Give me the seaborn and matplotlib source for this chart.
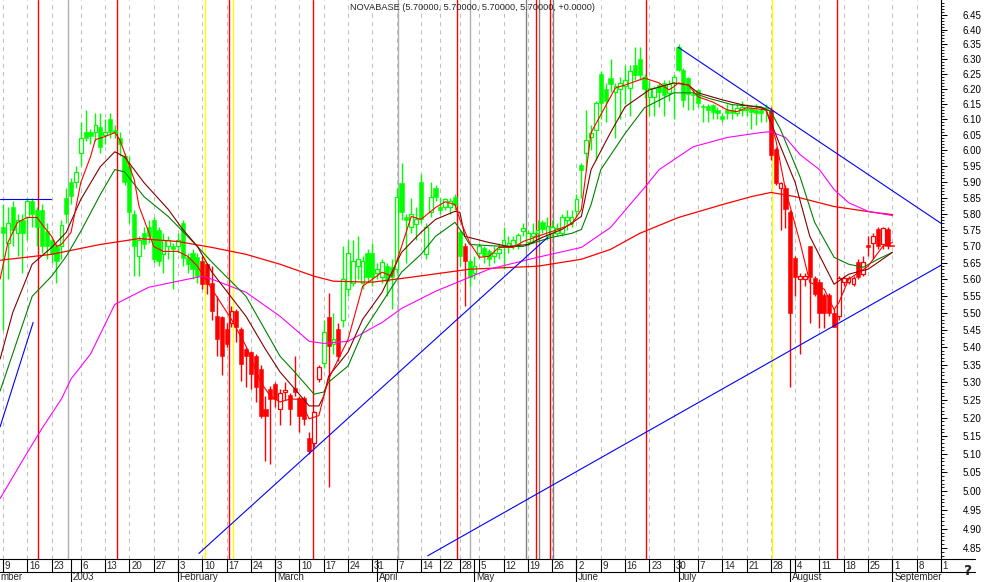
import numpy as np
import matplotlib
matplotlib.use("Agg")
import matplotlib.pyplot as plt
from matplotlib.ticker import FixedLocator, FuncFormatter, NullFormatter
import seaborn as sns

# daily candles, Dec 9 2002 -> Sep 1 2003 (trading-day index 0..183)
opens = [5.76, 5.71, 5.82, 5.74, 5.78, 5.79, 5.84, 5.81, 5.81, 5.745, 5.72, 5.70, 5.70, 5.85, 5.90, 5.90,
         5.99, 6.06, 6.06, 6.06, 6.075, 6.05, 6.10, 6.065, 6.04, 5.98, 5.95, 5.80, 5.67, 5.74, 5.76, 5.78,
         5.75, 5.675, 5.70, 5.70, 5.70, 5.77, 5.666, 5.68, 5.666, 5.654, 5.645, 5.59, 5.49, 5.487, 5.452, 5.469,
         5.507, 5.452, 5.394, 5.386, 5.374, 5.337, 5.225, 5.281, 5.295, 5.225, 5.272, 5.264, 5.284, 5.255, 5.255, 5.145,
         5.13, 5.31, 5.355, 5.487, 5.41, 5.452, 5.478, 5.57, 5.59, 5.64, 5.59, 5.68, 5.68, 5.62, 5.606, 5.639,
         5.636, 5.63, 5.897, 5.79, 5.76, 5.767, 5.90, 5.675, 5.804, 5.88, 5.82, 5.82, 5.82, 5.853, 5.742, 5.70,
         5.654, 5.62, 5.68, 5.693, 5.684, 5.67, 5.68, 5.70, 5.70, 5.70, 5.705, 5.745, 5.714, 5.73, 5.74, 5.773,
         5.73, 5.74, 5.739, 5.739, 5.78, 5.77, 5.807, 5.954, 5.99, 6.044, 6.066, 6.25, 6.20, 6.236, 6.19, 6.20,
         6.21, 6.203, 6.28, 6.30, 6.24, 6.174, 6.174, 6.213, 6.22, 6.187, 6.22, 6.34, 6.264, 6.236, 6.18, 6.197,
         6.14, 6.144, 6.148, 6.13, 6.11, 6.13, 6.13, 6.12, 6.13, 6.13, 6.138, 6.13, 6.13, 6.14, 6.131, 6.004,
         5.88, 5.881, 5.804, 5.663, 5.60, 5.60, 5.699, 5.603, 5.591, 5.552, 5.552, 5.501, 5.49, 5.591, 5.591, 5.585,
         5.651, 5.615, 5.702, 5.711, 5.751, 5.705, 5.751, 5.70]
highs = [5.83, 5.82, 5.84, 5.80, 5.80, 5.85, 5.85, 5.82, 5.83, 5.77, 5.73, 5.71, 5.78, 5.88, 5.91, 5.95,
         6.09, 6.13, 6.07, 6.12, 6.12, 6.10, 6.12, 6.08, 6.06, 5.99, 5.98, 5.81, 5.73, 5.76, 5.78, 5.79,
         5.76, 5.74, 5.73, 5.71, 5.74, 5.78, 5.68, 5.69, 5.68, 5.67, 5.65, 5.64, 5.55, 5.49, 5.47, 5.52,
         5.51, 5.46, 5.40, 5.39, 5.38, 5.35, 5.26, 5.29, 5.30, 5.28, 5.30, 5.27, 5.374, 5.26, 5.26, 5.16,
         5.22, 5.35, 5.48, 5.56, 5.50, 5.47, 5.70, 5.72, 5.72, 5.73, 5.67, 5.69, 5.71, 5.65, 5.66, 5.65,
         5.66, 5.88, 5.96, 5.80, 5.85, 5.82, 5.925, 5.77, 5.90, 5.89, 5.85, 5.85, 5.85, 5.86, 5.75, 5.71,
         5.66, 5.67, 5.71, 5.70, 5.69, 5.70, 5.71, 5.76, 5.73, 5.73, 5.74, 5.77, 5.75, 5.77, 5.78, 5.78,
         5.79, 5.78, 5.77, 5.80, 5.81, 5.81, 5.86, 5.96, 6.13, 6.08, 6.16, 6.26, 6.22, 6.30, 6.22, 6.24,
         6.28, 6.28, 6.34, 6.34, 6.25, 6.23, 6.21, 6.22, 6.23, 6.23, 6.25, 6.35, 6.27, 6.24, 6.20, 6.20,
         6.15, 6.15, 6.15, 6.14, 6.12, 6.15, 6.15, 6.15, 6.16, 6.15, 6.14, 6.15, 6.14, 6.15, 6.14, 6.01,
         5.90, 5.89, 5.81, 5.67, 5.62, 5.62, 5.70, 5.61, 5.60, 5.56, 5.56, 5.51, 5.61, 5.61, 5.61, 5.61,
         5.66, 5.67, 5.73, 5.74, 5.76, 5.76, 5.76, 5.70]
lows = [5.45, 5.60, 5.70, 5.67, 5.62, 5.72, 5.76, 5.70, 5.68, 5.66, 5.65, 5.59, 5.66, 5.77, 5.83, 5.88,
        5.95, 6.03, 6.02, 6.03, 5.99, 6.02, 6.04, 6.04, 5.98, 5.89, 5.77, 5.61, 5.61, 5.69, 5.71, 5.65,
        5.64, 5.62, 5.66, 5.57, 5.68, 5.64, 5.62, 5.60, 5.59, 5.57, 5.555, 5.48, 5.374, 5.32, 5.40, 5.46,
        5.414, 5.303, 5.287, 5.28, 5.244, 5.20, 5.08, 5.073, 5.23, 5.18, 5.25, 5.18, 5.26, 5.16, 5.18, 5.10,
        5.12, 5.30, 5.34, 5.01, 5.38, 5.36, 5.46, 5.55, 5.58, 5.60, 5.57, 5.59, 5.58, 5.60, 5.59, 5.55,
        5.51, 5.62, 5.78, 5.65, 5.74, 5.72, 5.77, 5.66, 5.79, 5.84, 5.80, 5.81, 5.80, 5.81, 5.64, 5.52,
        5.58, 5.60, 5.66, 5.65, 5.64, 5.65, 5.66, 5.63, 5.68, 5.69, 5.69, 5.73, 5.70, 5.71, 5.72, 5.74,
        5.72, 5.73, 5.73, 5.73, 5.75, 5.76, 5.79, 5.85, 5.938, 6.00, 5.97, 6.10, 6.09, 6.19, 6.04, 6.10,
        6.15, 6.11, 6.23, 6.23, 6.17, 6.11, 6.11, 6.14, 6.11, 6.16, 6.10, 6.26, 6.14, 6.13, 6.13, 6.14,
        6.09, 6.09, 6.10, 6.10, 6.09, 6.10, 6.10, 6.11, 6.11, 6.11, 6.07, 6.08, 6.09, 6.09, 5.97, 5.89,
        5.75, 5.757, 5.285, 5.55, 5.38, 5.58, 5.47, 5.55, 5.455, 5.455, 5.49, 5.458, 5.48, 5.58, 5.585, 5.58,
        5.60, 5.61, 5.67, 5.66, 5.69, 5.69, 5.69, 5.70]
closes = [5.74, 5.77, 5.75, 5.78, 5.74, 5.84, 5.80, 5.76, 5.70, 5.70, 5.675, 5.655, 5.765, 5.80, 5.855, 5.93,
          6.04, 6.04, 6.045, 6.08, 6.01, 6.06, 6.06, 6.057, 6.02, 5.90, 5.805, 5.70, 5.72, 5.705, 5.73, 5.66,
          5.655, 5.72, 5.72, 5.69, 5.72, 5.665, 5.645, 5.63, 5.609, 5.585, 5.585, 5.505, 5.423, 5.374, 5.408, 5.507,
          5.458, 5.351, 5.374, 5.323, 5.287, 5.206, 5.206, 5.252, 5.252, 5.27, 5.278, 5.225, 5.272, 5.206, 5.197, 5.107,
          5.215, 5.343, 5.443, 5.403, 5.423, 5.374, 5.60, 5.68, 5.654, 5.66, 5.654, 5.606, 5.606, 5.63, 5.651, 5.594,
          5.606, 5.853, 5.804, 5.78, 5.80, 5.782, 5.782, 5.76, 5.853, 5.853, 5.81, 5.844, 5.84, 5.828, 5.67, 5.654,
          5.606, 5.64, 5.699, 5.669, 5.66, 5.68, 5.69, 5.72, 5.71, 5.72, 5.733, 5.754, 5.739, 5.74, 5.75, 5.751,
          5.761, 5.76, 5.757, 5.788, 5.79, 5.79, 5.844, 5.938, 6.034, 6.057, 6.154, 6.154, 6.16, 6.217, 6.21, 6.22,
          6.23, 6.26, 6.245, 6.245, 6.20, 6.203, 6.203, 6.19, 6.18, 6.217, 6.24, 6.264, 6.164, 6.184, 6.18, 6.154,
          6.14, 6.131, 6.125, 6.12, 6.10, 6.12, 6.12, 6.138, 6.14, 6.135, 6.125, 6.12, 6.12, 6.13, 5.986, 5.897,
          5.897, 5.813, 5.50, 5.606, 5.61, 5.61, 5.606, 5.555, 5.501, 5.501, 5.501, 5.458, 5.603, 5.603, 5.603, 5.603,
          5.606, 5.651, 5.696, 5.73, 5.699, 5.754, 5.699, 5.70]
candle_colors = ("ggggggggggggggggggggggggggggggggggggggggg"
                 "rrrrrrrrrrrrrrrrrrrrrrrrr"
                 "grgr"
                 "ggggggggggggggggggggggggg"
                 "r"
                 "gggggggggggggggggggggggggggggggggggggggggggggggggggggggggggggg"
                 "rrrrrrrrrrrrrrrrrrrrrrrrrr")

# moving averages (day index, price)
fast_days = [-0.6, 1, 3, 5, 7, 8, 10, 11, 12, 14, 16, 18, 19, 21, 23, 24, 25, 27, 28, 30, 31, 33, 36, 38,
             40, 43, 47, 50, 53, 55, 57, 59, 61, 63, 65, 66, 67, 71, 74, 78, 80, 82, 84, 86, 89, 91, 93, 94,
             96, 98, 100, 102, 105, 107, 110, 113, 117, 119, 121, 126, 128, 132, 135, 137, 138, 139, 141, 143,
             146, 149, 151, 153, 157, 159, 161, 164, 166, 169, 171, 172, 174, 178, 181, 183]
fast_ma = [5.600, 5.711, 5.773, 5.788, 5.788, 5.767, 5.730, 5.699, 5.705, 5.742, 5.897, 5.979, 6.034, 6.044,
           6.057, 6.034, 5.992, 5.906, 5.822, 5.742, 5.699, 5.684, 5.684, 5.669, 5.639, 5.570, 5.481, 5.403,
           5.300, 5.261, 5.244, 5.252, 5.252, 5.197, 5.206, 5.261, 5.309, 5.423, 5.579, 5.621, 5.609, 5.699,
           5.791, 5.782, 5.819, 5.837, 5.828, 5.782, 5.711, 5.666, 5.669, 5.696, 5.696, 5.714, 5.730, 5.745,
           5.767, 5.813, 6.057, 6.203, 6.213, 6.236, 6.220, 6.197, 6.207, 6.220, 6.213, 6.174, 6.157, 6.131,
           6.125, 6.138, 6.131, 6.034, 5.875, 5.711, 5.591, 5.570, 5.510, 5.531, 5.600, 5.639, 5.699, 5.711]

mid_days = [-0.6, 2, 6, 10, 13, 16, 20, 23, 25, 29, 34, 37, 40, 43, 50, 54, 57, 60, 63, 65, 66, 67, 71, 74,
            78, 82, 86, 89, 93, 94, 95, 100, 104, 108, 111, 115, 119, 121, 125, 128, 133, 138, 141, 143, 148,
            152, 156, 157, 160, 163, 166, 171, 174, 178, 183]
mid_ma = [5.366, 5.501, 5.645, 5.696, 5.742, 5.844, 5.947, 5.995, 5.979, 5.897, 5.813, 5.751, 5.699, 5.621,
          5.490, 5.394, 5.329, 5.281, 5.233, 5.233, 5.261, 5.317, 5.386, 5.481, 5.561, 5.681, 5.742, 5.782,
          5.807, 5.804, 5.730, 5.711, 5.699, 5.705, 5.727, 5.751, 5.791, 5.938, 6.057, 6.141, 6.197, 6.220,
          6.213, 6.187, 6.164, 6.148, 6.138, 6.131, 6.011, 5.897, 5.730, 5.585, 5.615, 5.630, 5.681]

green_days = [-0.6, 6, 10, 13, 16, 20, 23, 25, 29, 34, 40, 43, 50, 57, 60, 64, 66, 67, 71, 74, 78, 82, 86,
              89, 93, 95, 96, 103, 107, 110, 113, 117, 119, 121, 123, 128, 132, 138, 142, 145, 150, 156, 158,
              160, 164, 167, 171, 174, 177, 180, 183]
green_ma = [5.275, 5.549, 5.609, 5.669, 5.745, 5.859, 5.938, 5.931, 5.853, 5.791, 5.699, 5.651, 5.549, 5.374,
            5.329, 5.266, 5.272, 5.300, 5.346, 5.443, 5.531, 5.621, 5.675, 5.730, 5.773, 5.730, 5.705, 5.699,
            5.699, 5.714, 5.727, 5.739, 5.751, 5.828, 5.938, 6.054, 6.138, 6.187, 6.187, 6.170, 6.148, 6.141,
            6.125, 6.066, 5.915, 5.773, 5.666, 5.645, 5.636, 5.660, 5.681]

magenta_days = [-0.6, 4, 8, 12, 14, 18, 23, 30, 41, 43, 50, 57, 63, 66, 71, 78, 82, 89, 100, 110, 119, 125,
                129, 132, 135, 142, 149, 156, 158, 161, 164, 168, 171, 174, 178, 183]
magenta_ma = [4.980, 5.082, 5.170, 5.252, 5.309, 5.380, 5.525, 5.576, 5.609, 5.600, 5.561, 5.490, 5.417,
              5.411, 5.417, 5.472, 5.513, 5.564, 5.630, 5.666, 5.696, 5.757, 5.828, 5.881, 5.938, 6.011,
              6.041, 6.057, 6.060, 6.041, 5.986, 5.938, 5.875, 5.834, 5.807, 5.794]

slow_days = [-0.6, 10, 20, 28, 36, 43, 50, 57, 64, 68, 76, 84, 96, 110, 119, 125, 131, 139, 148, 154, 158,
             163, 171, 179, 183]
slow_ma = [5.657, 5.675, 5.705, 5.723, 5.714, 5.696, 5.675, 5.645, 5.609, 5.594, 5.591, 5.606, 5.630, 5.639,
           5.660, 5.690, 5.739, 5.788, 5.828, 5.853, 5.866, 5.853, 5.822, 5.804, 5.797]

# hand drawn trend lines (start day, end day), (start price, end price)
trend_days = [(-0.6, 6.2), (-0.6, 9.9), (40.3, 112.1), (87.4, 193.0), (138.9, 193.0)]
trend_prices = [(5.175, 5.472), (5.847, 5.847), (4.836, 5.727), (4.830, 5.642), (6.34, 5.770)]

# signal markers
red_marks = [7.2, 23.5, 46.5, 63.8, 93.4, 109.7, 112.6, 132.3, 171.6]
yellow_marks = [41.6, 47.3, 158.2]
grey_marks = [13.4, 81.3, 96.1]
dark_marks = [107.6, 110.3, 113.2]

week_days = [0, 5, 10, 16, 21, 26, 31, 36, 41, 46, 51, 56, 61, 66, 71, 76, 81, 86, 90, 94,
             98, 103, 108, 113, 118, 123, 128, 133, 138, 143, 148, 153, 158, 163, 168, 173, 178, 183, 188, 193]
week_labels = ["9", "16", "23", "6", "13", "20", "27", "3", "10", "17", "24", "3", "10", "17", "24", "31",
               "7", "14", "22", "28", "5", "12", "19", "26", "2", "9", "16", "23", "30", "7", "14", "21",
               "28", "4", "11", "18", "25", "1", "8", "15"]
month_days = [14, 36, 56, 77, 97, 118, 139, 162, 183]
month_labels = ["2003", "February", "March", "April", "May", "June", "July", "August", "September"]
first_month_label = "mber"   # tail of "December", cut by the left edge in the original

title = "NOVABASE (5.70000, 5.70000, 5.70000, 5.70000, +0.0000)"

sns.set_style("white")
plt.rcParams["font.family"] = ["Liberation Sans", "DejaVu Sans"]

W, H = 986, 582
fig = plt.figure(figsize=(W / 100, H / 100), dpi=100)
ax = fig.add_axes([0, 23 / H, 941 / W, 559 / H])
ax.set_yscale("log")

for d in week_days:
    ax.axvline(d, color="#c0c0c0", lw=0.75, ls=(0, (4, 4)), zorder=0)
for d in grey_marks:
    ax.axvline(d, color="#b0b0b0", lw=1.0, zorder=1, snap=True)
for d in dark_marks:
    ax.axvline(d, color="#808080", lw=1.0, zorder=1, snap=True)
for d in red_marks:
    ax.axvline(d, color="#ff0000", lw=1.0, zorder=1, snap=True)
for d in yellow_marks:
    ax.axvline(d, color="#ffff00", lw=1.0, zorder=1, snap=True)

# candles
days = np.arange(len(closes))
o, h, l, c = (np.array(v) for v in (opens, highs, lows, closes))
col = np.where(np.array(list(candle_colors)) == "g", "#00ff00", "#ff0000")
ax.vlines(days, l, h, colors=col, lw=1.0, zorder=2)
lo = np.minimum(o, c)
ht = np.maximum(np.abs(c - o), 0.004)
hollow = c > o
ax.bar(days[~hollow], ht[~hollow], bottom=lo[~hollow], width=0.85,
       color=col[~hollow], edgecolor=col[~hollow], lw=0.4, zorder=3)
ax.bar(days[hollow], ht[hollow], bottom=lo[hollow], width=0.75,
       facecolor="white", edgecolor=col[hollow], lw=0.9, zorder=3)

# moving averages
ma_sets = [(slow_days, slow_ma, "#ff0000", 0.9), (magenta_days, magenta_ma, "#ff00ff", 0.8),
           (green_days, green_ma, "#008000", 0.8), (mid_days, mid_ma, "#800000", 0.8),
           (fast_days, fast_ma, "#ff0000", 0.8)]
for xs, ys, clr, lw in ma_sets:
    sns.lineplot(x=xs, y=ys, ax=ax, color=clr, linewidth=lw, sort=False,
                 estimator=None, legend=False, zorder=4)
for xs, ys in zip(trend_days, trend_prices):
    sns.lineplot(x=list(xs), y=list(ys), ax=ax, color="#0000ff", linewidth=0.8,
                 sort=False, estimator=None, legend=False, zorder=4)

ax.set_xlim(-0.62, 193.0)
ax.set_ylim(4.8216, 6.502)
ax.set_xlabel("")
ax.set_ylabel("")
ax.set_xticks([])

ax.yaxis.tick_right()
major = np.round(np.arange(4.85, 6.4501, 0.05), 2)
minor = np.round(np.arange(4.83, 6.50, 0.01), 2)
ax.yaxis.set_major_locator(FixedLocator(major))
ax.yaxis.set_minor_locator(FixedLocator(minor))
ax.yaxis.set_major_formatter(FuncFormatter(lambda v, p: f"{v:.2f}"))
ax.yaxis.set_minor_formatter(NullFormatter())
ax.tick_params(axis="y", which="major", length=4.5, width=0.75, pad=11, labelsize=7,
               right=True, left=False, colors="black")
ax.tick_params(axis="y", which="minor", length=2.2, width=0.75, right=True, left=False)
for s in ["left", "top", "bottom"]:
    ax.spines[s].set_visible(False)
ax.spines["right"].set_linewidth(0.8)
ax.spines["right"].set_color("black")

# date strip
ax2 = fig.add_axes([0, 0, 948 / W, 23 / H])
ax2.set_xlim(-0.62, (948 - 3) / 4.86)
ax2.set_ylim(0, 1)
ax2.axis("off")
mid = 10 / 23
ax2.plot([-1, 200], [1, 1], color="black", lw=0.8, clip_on=False)
ax2.plot([-1, 200], [mid, mid], color="black", lw=0.8, clip_on=False)
for d, lab in zip(week_days, week_labels):
    ax2.plot([d, d], [mid, 1], color="black", lw=0.8)
    ax2.text(d + 0.35, 0.70, lab, fontsize=7, ha="left", va="center", clip_on=True)
for d, lab in zip(month_days, month_labels):
    ax2.plot([d, d], [0, 1], color="black", lw=0.8)
    ax2.text(d + 0.35, 0.2, lab, fontsize=7, ha="left", va="center", clip_on=True)
ax2.text(-0.5, 0.2, first_month_label, fontsize=7, ha="left", va="center")

fig.text(350 / W, 1 - 8 / H, title, fontsize=6.6, ha="left", va="center")
fig.text(968 / W, 1 - 571 / H, "?", fontsize=10, fontweight="bold", ha="center", va="center",
         family="DejaVu Sans")

fig.savefig("out.png", dpi=100, facecolor="white")
